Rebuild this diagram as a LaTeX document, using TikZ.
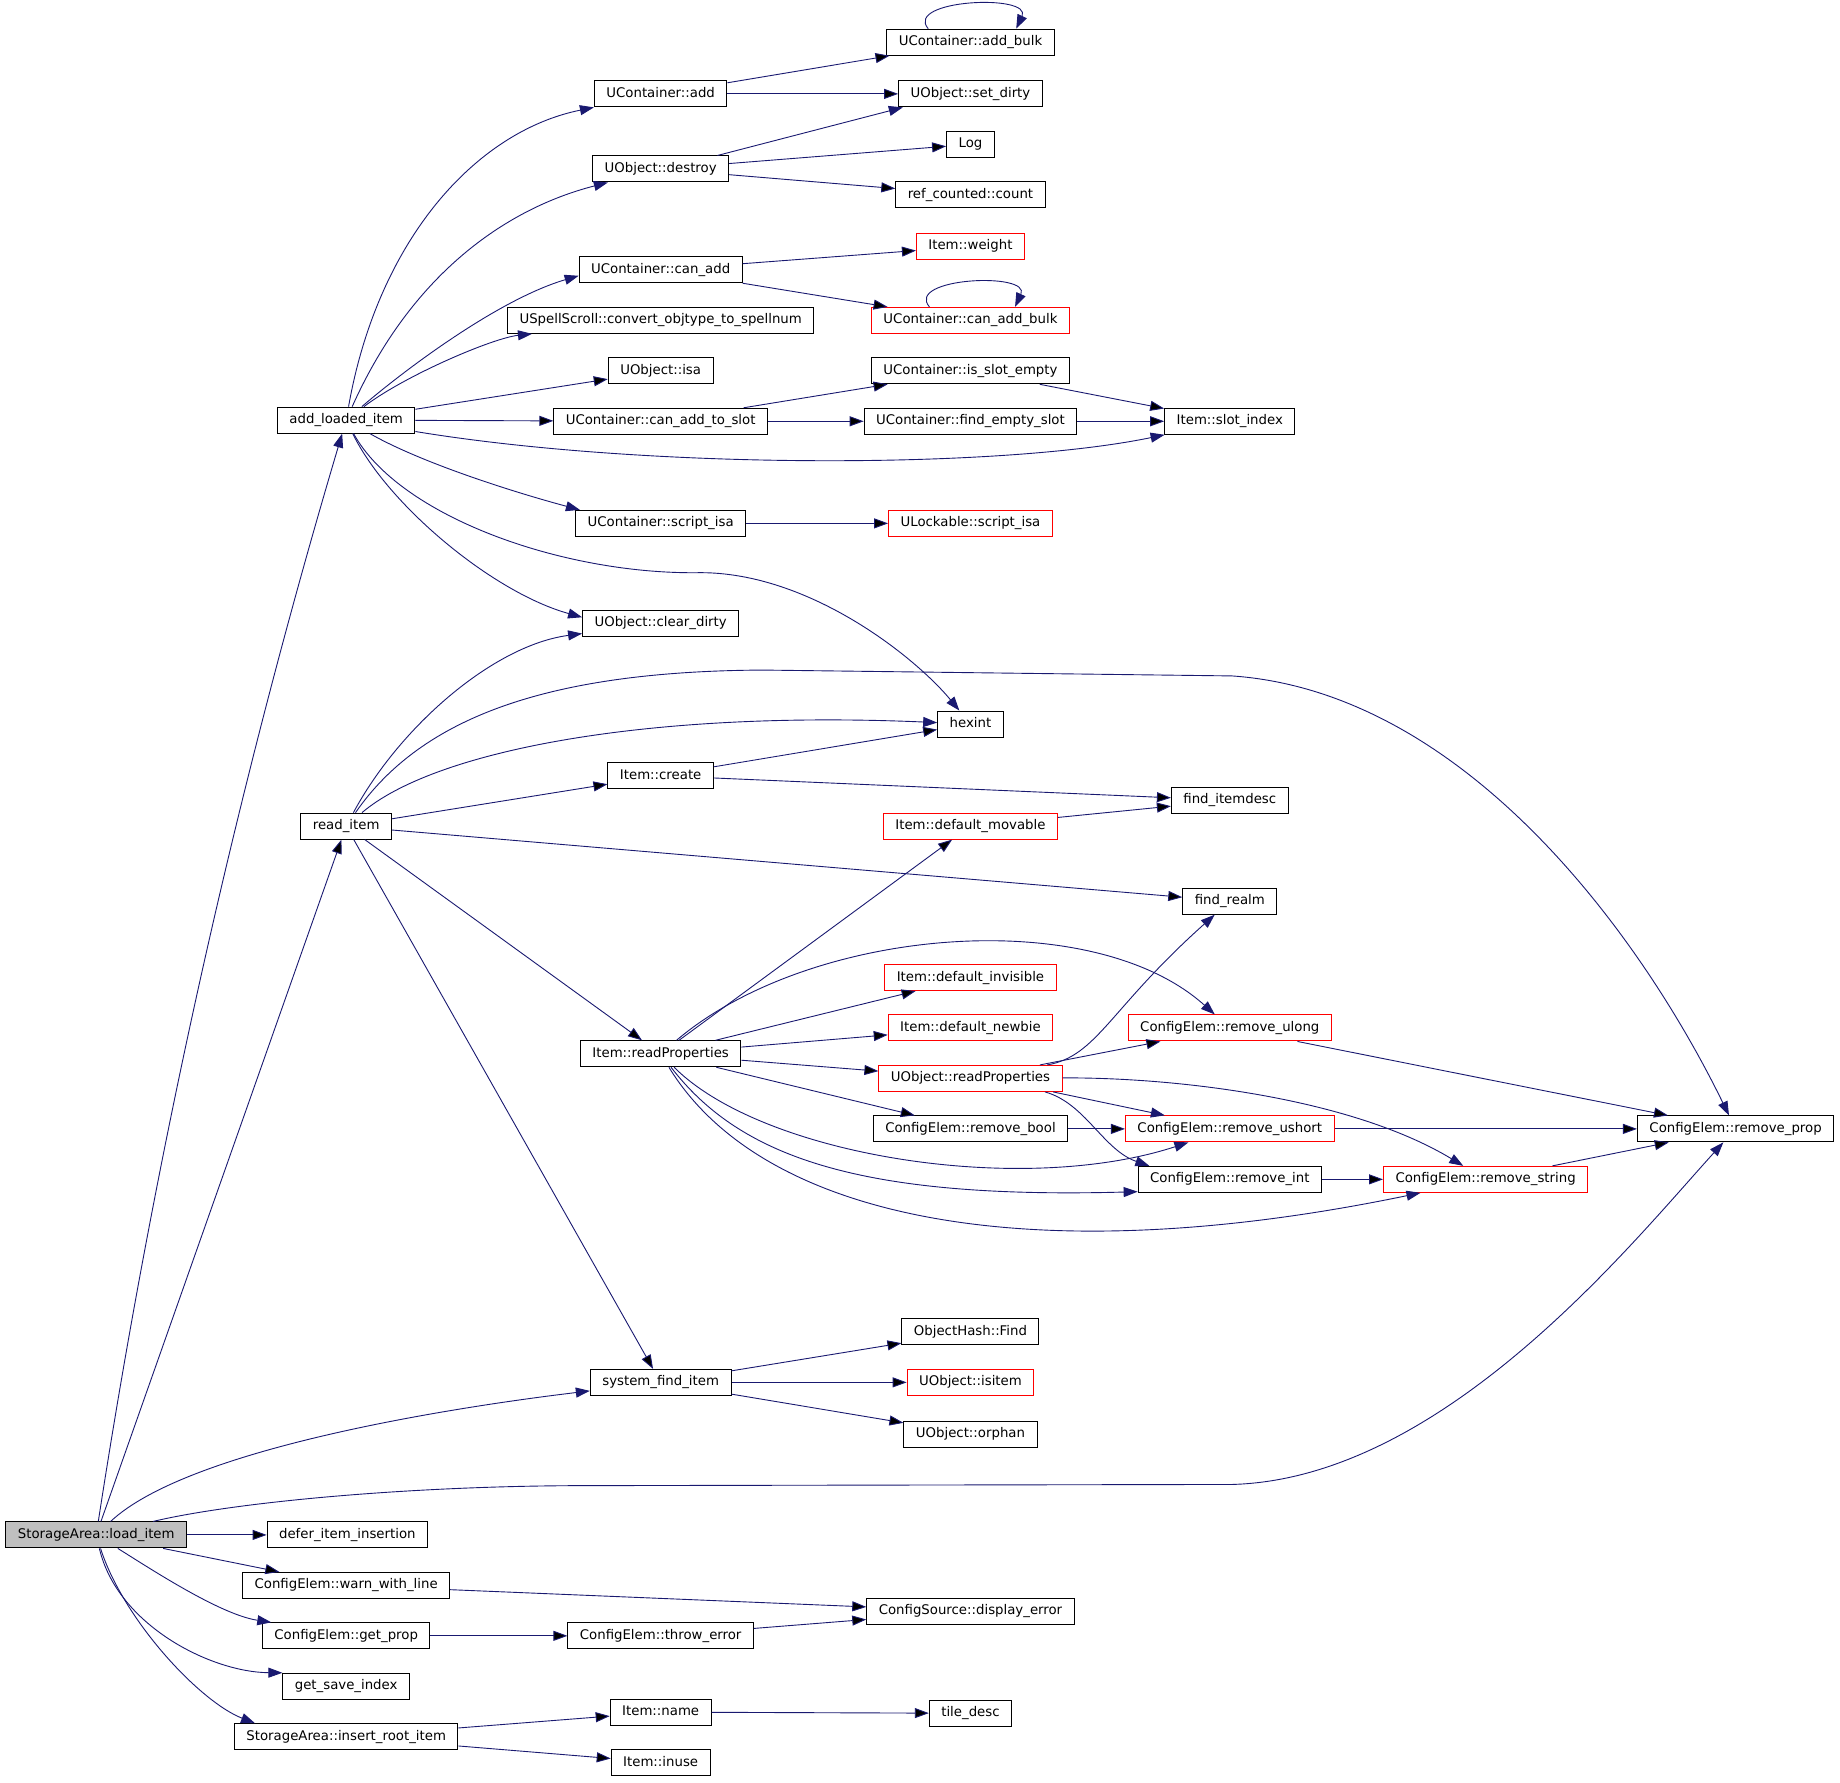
\documentclass[tikz,border=0pt]{standalone}
\usepackage{fontspec}
\setmainfont{DejaVu Sans}
\usetikzlibrary{arrows.meta,calc}
\definecolor{callblue}{HTML}{191970}
\definecolor{rootgray}{HTML}{BFBFBF}

\begin{document}
\begin{tikzpicture}[->,>={Triangle[length=7pt,width=5pt]},x=0.58675pt,y=-0.58675pt,
  fn/.style={rectangle,draw=black,line width=0.5pt,inner xsep=6pt,inner ysep=0pt,minimum height=13pt,text height=5pt,text depth=1.5pt,font=\fontsize{6.65}{8}\selectfont},
  ext/.style={fn,draw=red},
  root/.style={fn,fill=rootgray},
  call/.style={draw=callblue,line width=0.45pt}]

	\useasboundingbox (0,0) rectangle (1568,1519);

	% The graph
	\node [root] at (82,1308) (load) {StorageArea::load\_item};
	\node [fn] at (295,358) (addLoaded) {add\_loaded\_item};
	\node [fn] at (295,704) (readItem) {read\_item};
	\node [fn] at (296,1308) (defer) {defer\_item\_insertion};
	\node [fn] at (295,1351) (warnLine) {ConfigElem::warn\_with\_line};
	\node [fn] at (295,1394) (getProp) {ConfigElem::get\_prop};
	\node [fn] at (295,1437) (saveIdx) {get\_save\_index};
	\node [fn] at (295,1480) (insertRoot) {StorageArea::insert\_root\_item};

	\node [fn] at (563,80) (cAdd) {UContainer::add};
	\node [fn] at (563,144) (oDestroy) {UObject::destroy};
	\node [fn] at (563,230) (cCanAdd) {UContainer::can\_add};
	\node [fn] at (563,273) (spell) {USpellScroll::convert\_objtype\_to\_spellnum};
	\node [fn] at (563,316) (oIsa) {UObject::isa};
	\node [fn] at (563,359) (cCanSlot) {UContainer::can\_add\_to\_slot};
	\node [fn] at (563,446) (cScriptIsa) {UContainer::script\_isa};
	\node [fn] at (563,531) (oClearDirty) {UObject::clear\_dirty};
	\node [fn] at (563,661) (iCreate) {Item::create};
	\node [fn] at (563,898) (iReadProps) {Item::readProperties};
	\node [fn] at (563,1178) (sysFind) {system\_find\_item};
	\node [fn] at (563,1394) (throwErr) {ConfigElem::throw\_error};
	\node [fn] at (563,1459) (iName) {Item::name};
	\node [fn] at (563,1502) (iInuse) {Item::inuse};

	\node [fn] at (827,36) (cAddBulk) {UContainer::add\_bulk};
	\node [fn] at (827,80) (oSetDirty) {UObject::set\_dirty};
	\node [fn] at (827,123) (log) {Log};
	\node [fn] at (827,166) (refCount) {ref\_counted::count};
	\node [ext] at (827,210) (iWeight) {Item::weight};
	\node [ext] at (827,273) (cCanBulk) {UContainer::can\_add\_bulk};
	\node [fn] at (827,316) (cSlotEmpty) {UContainer::is\_slot\_empty};
	\node [fn] at (827,359) (cFindSlot) {UContainer::find\_empty\_slot};
	\node [ext] at (827,446) (lScriptIsa) {ULockable::script\_isa};
	\node [fn] at (827,617) (hexint) {hexint};
	\node [ext] at (827,704) (iDefMov) {Item::default\_movable};
	\node [ext] at (827,833) (iDefInv) {Item::default\_invisible};
	\node [ext] at (827,876) (iDefNew) {Item::default\_newbie};
	\node [ext] at (827,919) (oReadProps) {UObject::readProperties};
	\node [fn] at (827,962) (rmBool) {ConfigElem::remove\_bool};
	\node [fn] at (827,1135) (ohFind) {ObjectHash::Find};
	\node [ext] at (827,1178) (oIsitem) {UObject::isitem};
	\node [fn] at (827,1222) (oOrphan) {UObject::orphan};
	\node [fn] at (827,1373) (dispErr) {ConfigSource::display\_error};
	\node [fn] at (827,1460) (tileDesc) {tile\_desc};

	\node [fn] at (1048,359) (slotIdx) {Item::slot\_index};
	\node [fn] at (1048,682) (findDesc) {find\_itemdesc};
	\node [fn] at (1048,768) (findRealm) {find\_realm};
	\node [ext] at (1048,876) (rmUlong) {ConfigElem::remove\_ulong};
	\node [ext] at (1048,962) (rmUshort) {ConfigElem::remove\_ushort};
	\node [fn] at (1048,1005) (rmInt) {ConfigElem::remove\_int};
	\node [ext] at (1266,1005) (rmString) {ConfigElem::remove\_string};
	\node [fn] at (1479,962) (rmProp) {ConfigElem::remove\_prop};

	% Graph edges
	\path[call]
	(load) edge (readItem)
	(load) edge (defer)
	(load) edge (warnLine)
	(addLoaded) edge (oIsa)
	(addLoaded) edge (cCanSlot)
	(cAdd) edge (cAddBulk)
	(cAdd) edge (oSetDirty)
	(oDestroy) edge (log)
	(oDestroy) edge (refCount)
	(cCanAdd) edge (iWeight)
	(cCanAdd) edge (cCanBulk)
	(cCanSlot) edge (cSlotEmpty)
	(cCanSlot) edge (cFindSlot)
	(cSlotEmpty) edge (slotIdx)
	(cFindSlot) edge (slotIdx)
	(cScriptIsa) edge (lScriptIsa)
	(readItem) edge (iCreate)
	(readItem) edge (findRealm)
	(readItem) edge (iReadProps)
	(readItem) edge (sysFind)
	(iCreate) edge (hexint)
	(iCreate) edge (findDesc)
	(iDefMov) edge (findDesc)
	(iReadProps) edge (iDefMov)
	(iReadProps) edge (iDefInv)
	(iReadProps) edge (iDefNew)
	(iReadProps) edge (oReadProps)
	(iReadProps) edge (rmBool)
	(oReadProps) edge (rmUlong)
	(rmBool) edge (rmUshort)
	(rmUlong) edge (rmProp)
	(rmUshort) edge (rmProp)
	(rmInt) edge (rmString)
	(rmString) edge (rmProp)
	(sysFind) edge (ohFind)
	(sysFind) edge (oIsitem)
	(sysFind) edge (oOrphan)
	(warnLine) edge (dispErr)
	(getProp) edge (throwErr)
	(throwErr) edge (dispErr)
	(insertRoot) edge (iName)
	(insertRoot) edge (iInuse)
	(iName) edge (tileDesc);

	\draw[call] ($(oDestroy.north east)+(-10,0)$) -- ($(oSetDirty.south west)+(4,0)$);
	\draw[call] ($(oReadProps.south east)+(-8,0)$) -- ($(rmUshort.north west)+(34,0)$);

	% Curved calls
	\draw[call] (load) .. controls (132,984) and (201,674) .. (addLoaded);
	\draw[call] (load) .. controls (160,1235) and (380,1200) .. (sysFind);
	\draw[call] (load) .. controls (200,1280) and (350,1266) .. (500,1266) -- (1050,1265) .. controls (1230,1260) and (1390,1060) .. (rmProp);
	\draw[call] (load) .. controls (130,1338) and (188,1376) .. ($(getProp.north west)+(8,0)$);
	\draw[call] (load) .. controls (100,1385) and (180,1425) .. (saveIdx.north west);
	\draw[call] (load) .. controls (105,1380) and (170,1450) .. ($(insertRoot.north west)+(18,0)$);

	\draw[call] (addLoaded) .. controls (322,205) and (405,112) .. (cAdd);
	\draw[call] (addLoaded) .. controls (350,235) and (430,178) .. (oDestroy);
	\draw[call] (addLoaded) .. controls (345,315) and (425,255) .. ($(cCanAdd.west)+(0,5)$);
	\draw[call] (addLoaded) .. controls (345,320) and (420,288) .. (spell);
	\draw[call] (addLoaded) .. controls (550,400) and (850,400) .. (slotIdx);
	\draw[call] (addLoaded) .. controls (360,395) and (440,420) .. ($(cScriptIsa.north west)+(4,0)$);
	\draw[call] (addLoaded) .. controls (330,430) and (420,505) .. ($(oClearDirty.west)+(0,-5)$);
	\draw[call] (addLoaded) .. controls (340,440) and (480,490) .. (597,488) .. controls (690,488) and (780,560) .. (hexint);

	\draw[call] ($(cAddBulk.north)+(-36,0)$) .. controls +(-21,-25) and +(14,-30) .. ($(cAddBulk.north)+(39,0)$);
	\draw[call] ($(cCanBulk.north)+(-35,0)$) .. controls +(-21,-25) and +(14,-30) .. ($(cCanBulk.north)+(38,0)$);

	\draw[call] (readItem) .. controls (340,620) and (420,550) .. (oClearDirty);
	\draw[call] (readItem) .. controls (360,610) and (470,572) .. (650,571) -- (1050,576) .. controls (1250,590) and (1400,800) .. (rmProp);
	\draw[call] (readItem) .. controls (370,640) and (550,605) .. (hexint);

	\draw[call] (iReadProps) .. controls (690,790) and (930,770) .. (rmUlong);
	\draw[call] (iReadProps) .. controls (650,985) and (870,1020) .. (rmUshort);
	\draw[call] (iReadProps) .. controls (630,985) and (730,1022) .. ($(rmInt.south west)+(0,-1)$);
	\draw[call] (iReadProps) .. controls (650,1040) and (880,1085) .. (rmString);

	\draw[call] (oReadProps) .. controls (935,900) and (945,860) .. (findRealm);
	\draw[call] (oReadProps) .. controls (1000,918) and (1150,935) .. (rmString);
	\draw[call] ($(oReadProps.south east)+(-15,0)$) .. controls (925,940) and (940,980) .. ($(rmInt.north west)+(10,0)$);

\end{tikzpicture}
\end{document}
